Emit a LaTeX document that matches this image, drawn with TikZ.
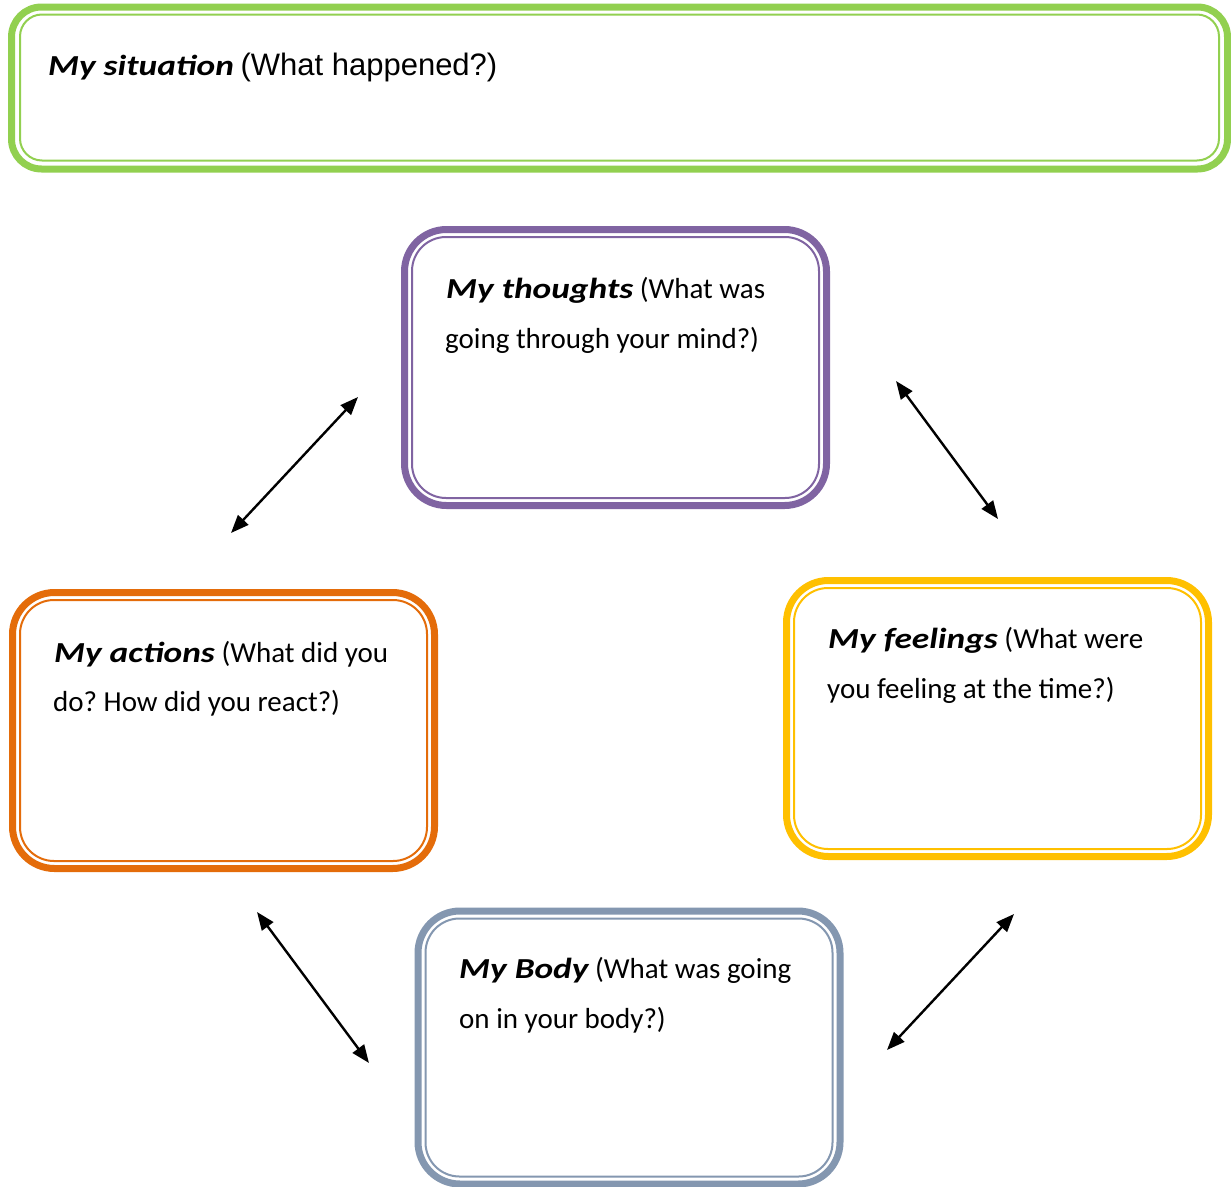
\documentclass[tikz,border=0pt]{standalone}
\usepackage{fontspec}
\setmainfont{Carlito}
\newfontfamily\hand{Carlito}[FakeStretch=1.22]
\newfontfamily\arialf{Liberation Sans}
\usetikzlibrary{arrows.meta}
\definecolor{cgreen}{HTML}{92D050}
\definecolor{cpurple}{HTML}{8064A2}
\definecolor{corange}{HTML}{E46C0A}
\definecolor{cyellow}{HTML}{FFC000}
\definecolor{cblue}{HTML}{8497B0}
\tikzset{
  cbox/.style={draw=#1, line width=7pt, rounded corners=42pt, rectangle, outer sep=0pt, inner sep=0pt},
  cinner/.style={draw=#1, line width=2pt, rounded corners=34pt},
  txt/.style={anchor=base west, inner sep=0pt, font=\fontsize{29}{35}\selectfont},
  twoway/.style={{Triangle[length=18pt,width=14pt]}-{Triangle[length=18pt,width=14pt]}, line width=2.4pt, black}
}
\newcommand{\hd}[1]{{\hand\bfseries\itshape #1}}
\frenchspacing
\begin{document}
\begin{tikzpicture}[x=1pt,y=-1pt]
\useasboundingbox (0,0) rectangle (1231,1186);
\fill[white] (0,0) rectangle (1231,1186);
% situation
\node[cbox=cgreen, rounded corners=30pt, minimum width=1216pt, minimum height=162pt] (sit) at (619.5,88) {};
\draw[cinner=cgreen, rounded corners=22pt] ([shift={(8.5,7.5)}]sit.north west) rectangle ([shift={(-8.5,-8.5)}]sit.south east);
% thoughts
\node[cbox=cpurple, minimum width=422pt, minimum height=276pt] (th) at (615.5,367.5) {};
\draw[cinner=cpurple] ([shift={(7.5,7.5)}]th.north west) rectangle ([shift={(-7.5,-7.5)}]th.south east);
% actions
\node[cbox=corange, minimum width=422pt, minimum height=276pt] (ac) at (223.5,730.5) {};
\draw[cinner=corange] ([shift={(7.5,7.5)}]ac.north west) rectangle ([shift={(-7.5,-7.5)}]ac.south east);
% feelings
\node[cbox=cyellow, minimum width=422pt, minimum height=276pt] (fe) at (997.5,718.5) {};
\draw[cinner=cyellow] ([shift={(7.5,7.5)}]fe.north west) rectangle ([shift={(-7.5,-7.5)}]fe.south east);
% body
\node[cbox=cblue, minimum width=422pt, minimum height=273pt] (bo) at (629,1047.5) {};
\draw[cinner=cblue] ([shift={(7.5,7.5)}]bo.north west) rectangle ([shift={(-7.5,-7.5)}]bo.south east);
% texts
\node[txt] (t1) at (48,75) {\hd{My situation} {\arialf\fontsize{31}{35}\selectfont(What happened?)}};
\node[txt] (t2a) at (446,298) {\hd{My thoughts} (What was};
\node[txt] (t2b) at (445,348) {going through your mind?)};
\node[txt] (t3a) at (54,662) {\hd{My actions} (What did you};
\node[txt] (t3b) at (53,711) {do? How did you react?)};
\node[txt] (t4a) at (828,648) {\hd{My feelings} (What were};
\node[txt] (t4b) at (827,698) {you feeling at the time?)};
\node[txt] (t5a) at (459,978) {\hd{My Body} (What was going};
\node[txt] (t5b) at (459,1028) {on in your body?)};
% arrows
\coordinate (a1s) at (231,533); \coordinate (a1e) at (358,397);
\coordinate (a2s) at (896,381); \coordinate (a2e) at (998,519);
\coordinate (a3s) at (257,912); \coordinate (a3e) at (369,1063);
\coordinate (a4s) at (887,1050); \coordinate (a4e) at (1014,914);
\draw[twoway] (a1s) -- (a1e);
\draw[twoway] (a2s) -- (a2e);
\draw[twoway] (a3s) -- (a3e);
\draw[twoway] (a4s) -- (a4e);
\end{tikzpicture}
\end{document}
